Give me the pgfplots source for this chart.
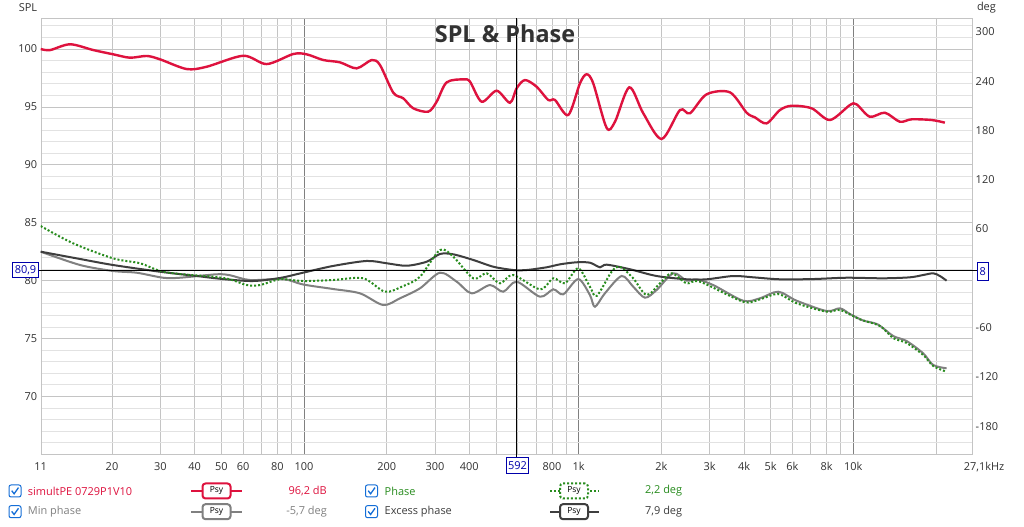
\documentclass[border=0pt]{standalone}
\usepackage{fontspec}
\setmainfont{Open Sans}
\usepackage{pgfplots}
\pgfplotsset{compat=1.18}
\definecolor{splred}{RGB}{222,18,62}
\definecolor{phgreen}{RGB}{40,140,30}
\definecolor{mingray}{RGB}{128,128,128}
\definecolor{exblack}{RGB}{62,62,62}
\definecolor{curblue}{RGB}{0,0,170}
\definecolor{chkblue}{RGB}{20,110,215}
\definecolor{gridminor}{RGB}{226,226,226}
\definecolor{gridmajor}{RGB}{196,196,196}
\definecolor{griddark}{RGB}{128,128,128}
\definecolor{labgray}{RGB}{50,50,50}

\pgfplotstableread{
f v
11 100.00
11.90 99.91
14.07 100.41
17.10 99.91
20.22 99.54
23.26 99.25
26.76 99.40
29.91 99.11
37.41 98.27
44.23 98.47
60.12 99.42
73.14 98.70
91.42 99.57
102.3 99.54
117.6 99.05
135.2 98.85
155.5 98.33
176.4 99.05
189.1 98.62
211.4 96.23
229.9 95.74
250.0 94.88
283.5 94.59
304.1 95.45
330.7 97.12
380.1 97.38
402.1 97.18
443.6 95.45
502.9 96.40
562.2 95.36
594.8 96.61
637.6 97.32
703.4 96.74
775.1 95.60
819.9 95.60
916.6 94.30
1011 97.04
1069 97.82
1130 97.04
1264 93.20
1356 93.72
1529 96.69
1719 94.45
2005 92.23
2338 94.73
2543 94.45
2924 96.09
3555 96.26
4089 94.50
4383 94.10
4834 93.58
5405 94.73
5963 95.10
7051 94.88
8218 93.87
9718 95.16
10280 95.22
11490 94.15
13030 94.50
14770 93.72
16300 93.93
19280 93.87
21550 93.64
}\spltable

\pgfplotstableread{
f v
11 32.4
15.30 23.5
20.17 16.2
29.91 8.0
40.68 2.8
50.72 -0.9
65.20 -3.3
81.78 0.4
99.17 6.8
127.5 15.0
169.1 21.1
200.0 18.3
236.5 15.3
279.7 20.2
312.7 29.6
349.6 29.2
413.5 22.3
488.9 14.1
577.9 10.1
646.7 10.1
764.7 13.4
855.0 17.0
983.3 19.5
1099 19.0
1196 13.4
1264 16.6
1538 11.0
1923 2.8
2473 -1.2
2924 -1.2
3654 2.8
4320 1.2
5405 -1.2
7145 -0.9
9454 0.7
12850 0
16070 1.2
17970 4.0
19540 6.1
20670 2.8
21860 -2.9
}\excesstable

\pgfplotstableread{
f v
11 32.4
15.30 16.2
20.17 8.9
24.60 6.8
30.67 0.7
35.37 0.7
48.10 4.9
53.78 3.7
63.60 -2.1
83.87 -0.9
99.17 -7.5
127.5 -13.0
159.9 -18.3
194.4 -32.5
223.6 -24.3
264.4 -12.2
312.7 6.8
359.7 -4.1
407.9 -18.3
475.5 -8.2
531.5 -16.3
594.8 -4.1
723.1 -22.4
808.4 -13.4
878.9 -19.5
996.6 -0.9
1099 -20.3
1146 -34.6
1246 -18.3
1434 2.8
1580 -10.2
1743 -23.6
1923 -14.2
2210 6.1
2473 -2.9
2689 -1.2
3090 -8.2
3974 -27.3
4571 -24.3
5330 -16.3
6219 -27.3
7993 -39.8
8938 -36.5
9718 -43.4
10870 -51.4
12290 -56.2
13970 -70.2
15630 -76.3
17970 -91.3
19540 -105.5
21860 -109.5
}\mintable

\pgfplotstableread{
f v
11 63.6
14.43 42.6
20.17 24.3
25.29 18.3
29.91 8.9
35.37 5.2
46.63 1.9
53.78 -1.2
61.86 -8.2
69.16 -8.2
81.78 -1.2
99.17 -3.3
127.5 -2.1
164.4 0
197.2 -16.3
229.9 -9.4
264.4 1.9
312.7 34.4
349.6 26.3
413.5 0
462.5 6.1
517.0 -6.1
577.9 4.0
723.1 -13.4
808.4 0
891.5 -6.1
996.6 12.2
1099 -10.2
1163 -21.5
1318 8.0
1413 14.1
1580 0
1768 -20.3
1977 -6.1
2181 6.1
2473 -6.1
2764 -4.1
3974 -28.5
4571 -25.6
5330 -19.1
6219 -30.4
7993 -40.6
8938 -38.6
10570 -49.9
12500 -58.0
13970 -72.7
15630 -78.7
17970 -93.3
19540 -106.7
21860 -113.7
}\phasetable

\begin{document}
\begin{tikzpicture}[x=1bp,y=1bp,font=\fontsize{11}{13}\selectfont]
\path[use as bounding box, fill=white] (0,0) rectangle (1024,527);

\begin{axis}[
  at={(40.7bp,73bp)}, anchor=south west,
  scale only axis, width=931.5bp, height=436bp,
  xmode=log, xmin=11, xmax=27100,
  ymin=65.03, ymax=102.68,
  axis line style={draw=gridmajor},
  tick style={draw=none},
  xtick={100,1000,10000},
  xticklabels={100,1k,10k},
  minor xtick={20,30,40,50,60,70,80,90,200,300,400,500,600,700,800,900,2000,3000,4000,5000,6000,7000,8000,9000,20000},
  extra x ticks={11,20,30,40,50,60,80,200,300,400,800,2000,3000,4000,5000,6000,8000},
  extra x tick labels={11,20,30,40,50,60,80,200,300,400,800,2k,3k,4k,5k,6k,8k},
  extra x tick style={grid=none},
  xticklabel style={anchor=base, yshift=-17bp, text=labgray},
  ytick={70,75,80,85,90,95,100},
  yticklabels={70,75,80,85,90,95,100},
  minor ytick={66,67,68,69,71,72,73,74,76,77,78,79,81,82,83,84,86,87,88,89,91,92,93,94,96,97,98,99,101,102},
  yticklabel style={text=labgray},
  grid=both,
  major x grid style={draw=griddark, line width=0.8bp},
  minor x grid style={draw=gridmajor, line width=0.8bp},
  major y grid style={draw=gridmajor, line width=0.8bp},
  minor y grid style={draw=gridminor, line width=0.8bp},
]
\addplot[splred, line width=2.4bp, smooth, tension=0.5] table[x=f,y=v] {\spltable};
\end{axis}

\begin{axis}[
  at={(40.7bp,73bp)}, anchor=south west,
  scale only axis, width=931.5bp, height=436bp,
  xmode=log, xmin=11, xmax=27100,
  ymin=-213.8, ymax=316.8,
  axis x line=none,
  axis y line*=right,
  axis line style={draw=gridmajor},
  tick style={draw=none},
  ytick={-180,-120,-60,60,120,180,240,300},
  yticklabels={-180,-120,-60,60,120,180,240,300},
  yticklabel style={text=labgray},
]
\addplot[mingray, line width=2bp, smooth, tension=0.5] table[x=f,y=v] {\mintable};
\addplot[exblack, line width=2bp, smooth, tension=0.5] table[x=f,y=v] {\excesstable};
\addplot[phgreen, line width=2bp, dash pattern=on 2bp off 2bp, smooth, tension=0.5] table[x=f,y=v] {\phasetable};
\end{axis}

% cursor
\draw[black, line width=1bp] (516.1,70) -- (516.1,509);
\draw[black, line width=1bp] (38,256.8) -- (977,256.8);
\node[draw=curblue, fill=white, text=curblue, line width=0.8bp, inner sep=1.2bp, minimum height=14.6bp, minimum width=25.6bp] at (25.5,257) {80,9};
\node[draw=curblue, fill=white, text=curblue, line width=0.8bp, inner sep=1.2bp, minimum height=17.5bp, minimum width=11bp] at (982.8,255.5) {8};
\node[draw=curblue, fill=white, text=curblue, line width=0.8bp, inner sep=1.2bp, minimum height=16bp, minimum width=22bp] at (517.5,61.5) {592};

% axis titles
\node[text=labgray] at (28,519) {SPL};
\node[text=labgray, anchor=west] at (973.5,519) {deg};
\node[text=labgray, anchor=base] at (984,56) {27,1kHz};
\node[text=labgray, font=\fontsize{23.5}{25}\bfseries] at (505,493) {SPL \& Phase};

% legend
\foreach \cx/\cy in {15/36,15/15.3,371.5/36,371.5/15.3} {
  \draw[chkblue, line width=1bp, rounded corners=2bp] (\cx-6,\cy-6) rectangle (\cx+6,\cy+6);
  \draw[chkblue, line width=1.3bp] (\cx-3.3,\cy+0.3) -- (\cx-0.9,\cy-2.8) -- (\cx+3.5,\cy+3.4);
}
\node[anchor=west, inner sep=0, text=splred] at (27.8,36) {simultPE 0729P1V10};
\node[anchor=west, inner sep=0, text=mingray] at (27.8,15.3) {Min phase};
\node[anchor=east, inner sep=0, text=splred] at (327,36) {96,2 dB};
\node[anchor=east, inner sep=0, text=mingray] at (327,15.3) {-5,7 deg};
\node[anchor=west, inner sep=0, text=phgreen] at (384.5,36) {Phase};
\node[anchor=west, inner sep=0, text=exblack] at (384.5,15.3) {Excess phase};
\node[anchor=west, inner sep=0, text=phgreen] at (645,36) {2,2 deg};
\node[anchor=west, inner sep=0, text=exblack] at (645,15.3) {7,9 deg};

\draw[splred, line width=2bp] (191.4,36) -- (242,36);
\node[draw=splred, fill=white, line width=2bp, rounded corners=3bp, minimum width=28bp, minimum height=15bp, inner sep=0, font=\fontsize{8.5}{9}\selectfont] at (216.5,36) {Psy};
\draw[mingray, line width=2bp] (191.4,15.3) -- (242,15.3);
\node[draw=mingray, fill=white, line width=2bp, rounded corners=3bp, minimum width=28bp, minimum height=15bp, inner sep=0, font=\fontsize{8.5}{9}\selectfont] at (216.5,15.3) {Psy};
\draw[phgreen, line width=2bp, dash pattern=on 2bp off 2bp] (550,36) -- (599,36);
\node[draw=phgreen, fill=white, line width=2bp, dash pattern=on 2bp off 2bp, rounded corners=3bp, minimum width=28bp, minimum height=15bp, inner sep=0, font=\fontsize{8.5}{9}\selectfont] at (574,36) {Psy};
\draw[exblack, line width=2bp] (550,15.3) -- (599,15.3);
\node[draw=exblack, fill=white, line width=2bp, rounded corners=3bp, minimum width=28bp, minimum height=15bp, inner sep=0, font=\fontsize{8.5}{9}\selectfont] at (574,15.3) {Psy};
\end{tikzpicture}
\end{document}
